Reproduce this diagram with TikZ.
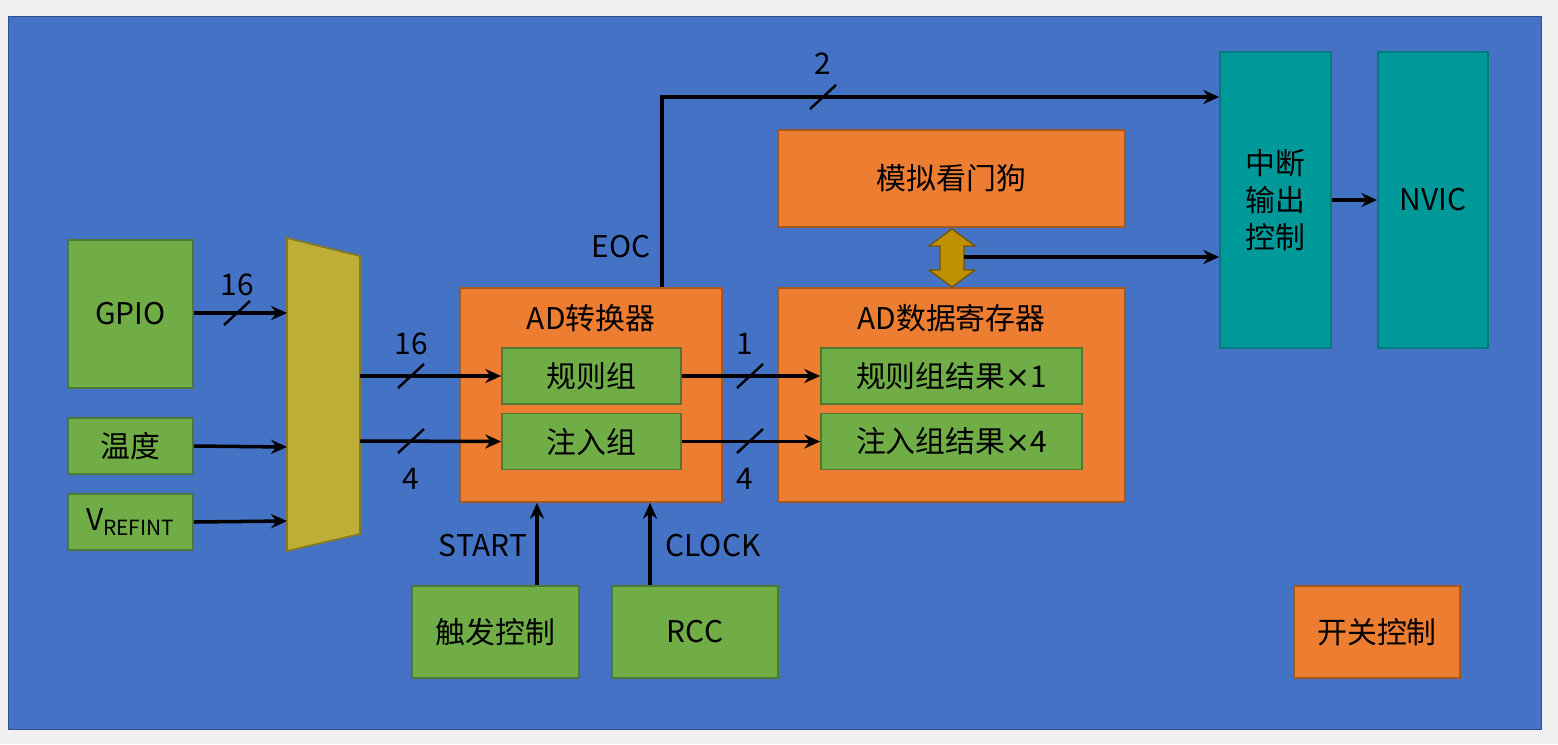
\documentclass[tikz,border=0pt]{standalone}
\usepackage{fontspec}
\setmainfont{Noto Sans CJK SC}
\newfontfamily\latn{DejaVu Sans}
\usetikzlibrary{arrows.meta}
\definecolor{panel}{HTML}{4472C4}
\definecolor{orng}{HTML}{ED7D31}
\definecolor{grn}{HTML}{70AD47}
\definecolor{teal2}{HTML}{009999}
\definecolor{olive}{HTML}{BFAE35}
\definecolor{gold}{HTML}{BF9000}
\tikzset{
  blk/.style = {draw, line width=1pt, inner sep=0pt, align=center, font=\fontsize{17}{21}\selectfont},
  og/.style = {blk, fill=orng, draw=orng!70!black},
  gr/.style = {blk, fill=grn, draw=grn!70!black},
  tl/.style = {blk, fill=teal2, draw=teal2!80!black},
  bus/.style = {line width=2pt, -{Stealth[length=9pt,width=8pt]}},
  lbl/.style = {font=\fontsize{17}{21}\selectfont}
}
\newcommand{\busmark}[2]{\draw[line width=1.4pt] (#1-13,#2+12) -- (#1+13,#2-12);}
\begin{document}
\begin{tikzpicture}[x=0.02cm, y=-0.02cm]
  \fill[gray!12] (0,0) rectangle (1558,744);
  \filldraw[fill=panel, draw=panel!70!black] (8,16) rectangle (1541,729);

  % boxes
  \node[gr, minimum width=2.5cm, minimum height=2.96cm] (gpio) at (130.5,314) {GPIO};
  \node[gr, minimum width=2.5cm, minimum height=1.12cm] (temp) at (130.5,446) {温度};
  \node[gr, minimum width=2.5cm, minimum height=1.12cm] (vref) at (130.5,522) {V\textsubscript{REFINT}};
  \filldraw[fill=olive, draw=olive!70!black, line width=1pt] (287,238) -- (360,256) -- (360,534) -- (287,551) -- cycle;

  \node[og, minimum width=5.24cm, minimum height=4.28cm] (adc) at (591,395) {};
  \node[lbl] at (591,318) {AD转换器};
  \node[gr, minimum width=3.58cm, minimum height=1.12cm] (reg) at (591.5,376) {规则组};
  \node[gr, minimum width=3.58cm, minimum height=1.12cm] (inj) at (591.5,441.5) {注入组};

  \node[og, minimum width=6.94cm, minimum height=4.28cm] (dr) at (951.5,395) {};
  \node[lbl] at (951.5,318) {AD数据寄存器};
  \node[gr, minimum width=5.22cm, minimum height=1.12cm] (regr) at (951.5,376) {规则组结果{\latn ×}1};
  \node[gr, minimum width=5.22cm, minimum height=1.12cm] (injr) at (951.5,441.5) {注入组结果{\latn ×}4};

  \node[og, minimum width=6.94cm, minimum height=1.94cm] (wdg) at (951.5,178.5) {模拟看门狗};
  \node[tl, minimum width=2.22cm, minimum height=5.92cm] (irq) at (1275.5,200) {中断\\输出\\控制};
  \node[tl, minimum width=2.2cm, minimum height=5.92cm] (nvic) at (1433,200) {NVIC};

  \node[gr, minimum width=3.34cm, minimum height=1.84cm] (trig) at (495.5,632) {触发控制};
  \node[gr, minimum width=3.32cm, minimum height=1.84cm] (rcc) at (695,632) {RCC};
  \node[og, minimum width=3.32cm, minimum height=1.84cm] (sw) at (1377,632) {开关控制};

  % connections
  \draw[bus] (gpio.east |- 0,313) -- (287,313);
  \busmark{237}{313} \node[lbl] at (237,285) {16};
  \draw[bus] (temp.east) -- (287,447);
  \draw[bus] (vref.east) -- (287,521);
  \draw[bus] (360,376) -- (reg.west);
  \busmark{411}{376} \node[lbl] at (411,344) {16};
  \draw[bus] (360,441) -- (inj.west);
  \busmark{411}{441} \node[lbl] at (411,479) {4};
  \draw[bus] (reg.east) -- (regr.west);
  \busmark{750}{376} \node[lbl] at (745,344) {1};
  \draw[bus] (inj.east) -- (injr.west);
  \busmark{750}{441} \node[lbl] at (745,479) {4};

  \draw[bus] (trig.north -| 537,0) -- (adc.south -| 537,0);
  \node[lbl] at (483,546) {START};
  \draw[bus] (rcc.north -| 650,0) -- (adc.south -| 650,0);
  \node[lbl] at (713,546) {CLOCK};

  \draw[bus] (adc.north -| 662,0) -- (662,97) -- (irq.west |- 0,97);
  \busmark{823}{97} \node[lbl] at (823,64) {2};
  \node[lbl] at (621,247) {EOC};

  \filldraw[fill=gold, draw=gold!60!black, line width=0.8pt]
    (952,229) -- (975,246) -- (964,246) -- (964,270) -- (975,270) -- (952,287)
    -- (929,270) -- (940,270) -- (940,246) -- (929,246) -- cycle;
  \draw[bus] (964,257) -- (irq.west |- 0,257);
  \draw[bus] (irq.east |- 0,200) -- (nvic.west |- 0,200);
\end{tikzpicture}
\end{document}
